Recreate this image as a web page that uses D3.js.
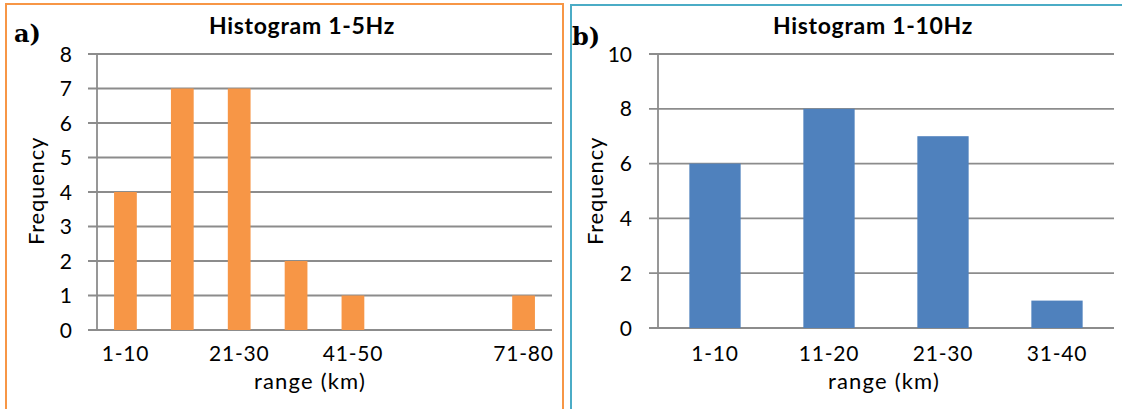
<!DOCTYPE html>
<html>
<head>
<meta charset="utf-8">
<script src="https://cdn.jsdelivr.net/npm/d3@7"></script>
<style>
  body { margin: 0; background: #fff; }
  text { font-family: Lato, "Open Sans", sans-serif; fill: #000; }
</style>
</head>
<body>
<svg id="chart" width="1122" height="409"></svg>
<script>
// panel a) : 1-5Hz
var catsA = ["1-10", "11-20", "21-30", "31-40", "41-50", "51-60", "61-70", "71-80"];
var countsA = [4, 7, 7, 2, 1, 0, 0, 1];
var shownA = ["1-10", "21-30", "41-50", "71-80"];
var yTicksA = [0, 1, 2, 3, 4, 5, 6, 7, 8];

// panel b) : 1-10Hz
var catsB = ["1-10", "11-20", "21-30", "31-40"];
var countsB = [6, 8, 7, 1];
var shownB = catsB;
var yTicksB = [0, 2, 4, 6, 8, 10];

var svg = d3.select('#chart');

// frames round each panel
svg.append('rect')
  .attr('x', 6).attr('y', 4)
  .attr('width', 557).attr('height', 440)
  .attr('fill', 'none')
  .attr('stroke', '#f79646')
  .attr('stroke-width', 2);

svg.append('rect')
  .attr('x', 571).attr('y', 5)
  .attr('width', 600).attr('height', 440)
  .attr('fill', 'none')
  .attr('stroke', '#4bacc6')
  .attr('stroke-width', 2);

function drawPanel(p){
  var x = d3.scaleBand()
    .domain(p.cats)
    .range([p.left, p.right])
    .paddingInner(p.pad)
    .paddingOuter(p.pad / 2);

  var y = d3.scaleLinear()
    .domain([0, d3.max(p.ticks)])
    .range([p.bottom, p.top]);

  var g = svg.append('g');

  // gridlines + tick marks
  g.selectAll('.grid')
    .data(p.ticks)
    .enter().append('line')
    .attr('class', 'grid')
    .attr('x1', p.left - 9)
    .attr('x2', p.right)
    .attr('y1', function(d){ return y(d); })
    .attr('y2', function(d){ return y(d); })
    .attr('stroke', '#8c8c8c')
    .attr('stroke-width', 1.8);

  g.append('line')
    .attr('x1', p.left).attr('x2', p.left)
    .attr('y1', y(d3.max(p.ticks))).attr('y2', y(0))
    .attr('stroke', '#8c8c8c')
    .attr('stroke-width', 1.8);

  g.selectAll('.bar')
    .data(p.counts)
    .enter().append('rect')
    .attr('class', 'bar')
    .attr('x', function(d, i){ return x(p.cats[i]); })
    .attr('width', x.bandwidth())
    .attr('y', function(d){ return y(d); })
    .attr('height', function(d){ return y(0) - y(d); })
    .attr('fill', p.color);

  // y tick labels
  g.selectAll('.ylab')
    .data(p.ticks)
    .enter().append('text')
    .attr('class', 'ylab')
    .attr('x', p.labelX)
    .attr('y', function(d){ return y(d); })
    .attr('dy', '0.36em')
    .attr('text-anchor', 'end')
    .style('font-size', '21px')
    .text(function(d){ return d; });

  // x tick labels (only the ones shown)
  g.selectAll('.xlab')
    .data(p.shown)
    .enter().append('text')
    .attr('class', 'xlab')
    .attr('x', function(d){ return x(d) + x.bandwidth() / 2; })
    .attr('y', 361)
    .attr('text-anchor', 'middle')
    .style('font-size', '21px')
    .style('letter-spacing', '0.8px')
    .text(function(d){ return d; });

  g.append('text')
    .attr('x', p.xTitleX)
    .attr('y', 389)
    .attr('text-anchor', 'middle')
    .style('font-size', '22px')
    .style('letter-spacing', '1.2px')
    .text('range (km)');

  g.append('text')
    .attr('transform', 'translate(' + p.yTitleX + ',191) rotate(-90)')
    .attr('text-anchor', 'middle')
    .style('font-size', '22px')
    .style('letter-spacing', '0.8px')
    .text('Frequency');

  g.append('text')
    .attr('x', p.titleX)
    .attr('y', 34)
    .attr('text-anchor', 'middle')
    .style('font-size', '23px')
    .style('font-weight', 'bold')
    .style('letter-spacing', '0.7px')
    .text(p.title);

  g.append('text')
    .attr('x', p.tagX)
    .attr('y', p.tagY)
    .style('font-family', '"DejaVu Serif", serif')
    .style('font-size', '24px')
    .style('font-weight', 'bold')
    .text(p.tag);
}

drawPanel({
  cats: catsA, counts: countsA, shown: shownA, ticks: yTicksA,
  left: 97, right: 552, top: 54, bottom: 330, pad: 0.6,
  color: '#f79646', labelX: 72, xTitleX: 310, yTitleX: 44,
  title: 'Histogram 1-5Hz', titleX: 302, tag: 'a)', tagX: 14, tagY: 42
});

drawPanel({
  cats: catsB, counts: countsB, shown: shownB, ticks: yTicksB,
  left: 658, right: 1114, top: 54, bottom: 328, pad: 0.55,
  color: '#4f81bd', labelX: 632, xTitleX: 884, yTitleX: 603,
  title: 'Histogram 1-10Hz', titleX: 873, tag: 'b)', tagX: 572, tagY: 45
});
</script>
</body>
</html>
